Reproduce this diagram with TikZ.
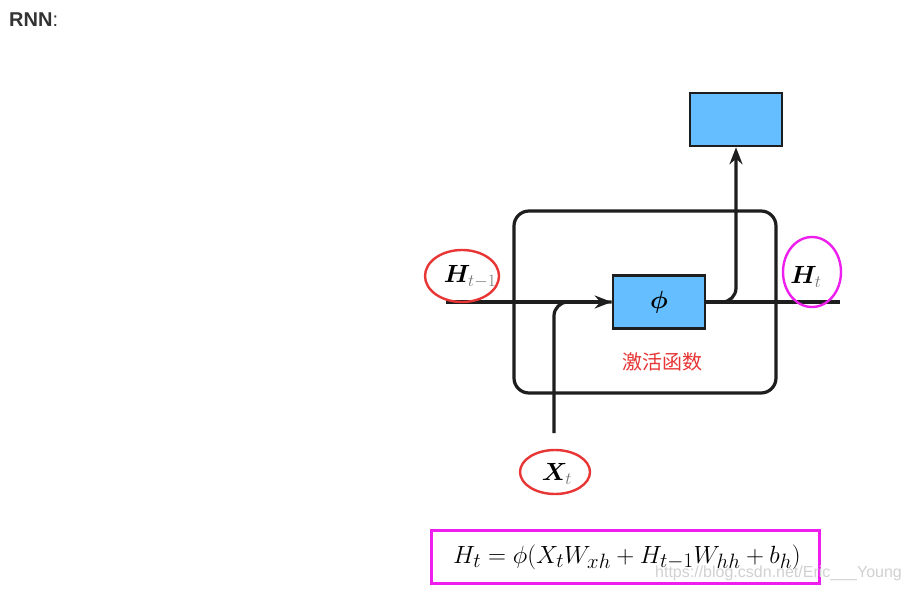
\documentclass[tikz,border=0pt]{standalone}
\usepackage{amsmath}
\usepackage{bm}
\usepackage{fontspec}
\newfontfamily\arialfont{Liberation Sans}
\newfontfamily\cjkfont{Noto Sans CJK SC}
\usetikzlibrary{arrows.meta}
\definecolor{boxblue}{HTML}{64BEFF}
\definecolor{linegray}{HTML}{1E1E1E}
\definecolor{markred}{HTML}{E83535}
\definecolor{markmag}{HTML}{EE1EEE}
\tikzset{
  cellbox/.style={draw=linegray, line width=3.2pt, rounded corners=15pt},
  bluebox/.style={draw=linegray, line width=2.6pt, fill=boxblue, minimum width=92pt, minimum height=53pt, inner sep=0pt},
  wire/.style={draw=linegray, line width=3.2pt},
  arrowwire/.style={wire, -{Stealth[length=17pt,width=13pt]}},
  redmark/.style={draw=markred, line width=2.4pt},
  magmark/.style={draw=markmag, line width=2.4pt},
  varlabel/.style={inner sep=0pt, font=\fontsize{26}{30}\selectfont}
}
\begin{document}
\begin{tikzpicture}[x=1pt, y=-1pt]
\useasboundingbox (0,0) rectangle (908,589);
\fill[white] (0,0) rectangle (908,589);
% title
\node[anchor=base west, inner sep=0pt, font=\arialfont\fontsize{20}{24}\selectfont, text=black!80] (title) at (9,27) {\textbf{RNN}:};
% cell
\draw[cellbox] (514,211) rectangle (776,393);
\node[bluebox, font=\fontsize{35}{40}\selectfont] (phi) at (659,302) {$\bm{\phi}$};
\node[bluebox] (top) at (736,119.5) {};
\coordinate (hin) at (446,302);
\coordinate (hout) at (840,302);
\coordinate (xin) at (554,433);
\draw[arrowwire] (hin) -- (phi.west);
\draw[wire, rounded corners=14pt] (xin) |- (phi.west);
\draw[wire] (phi.east) -- (hout);
\draw[arrowwire, rounded corners=14pt] (phi.east) -| (top.south);
% labels
\node[varlabel] (hprev) at (470,277) {$\bm{H}_{\color{black!55}t-1}$};
\node[varlabel] (hcur) at (806,277) {$\bm{H}_{\color{black!55}t}$};
\node[varlabel] (xcur) at (557,474) {$\bm{X}_{\color{black!55}t}$};
\draw[redmark] (462,276) ellipse [x radius=37, y radius=26];
\draw[magmark] (812,272) ellipse [x radius=29, y radius=35];
\draw[redmark] (555,472) ellipse [x radius=35, y radius=22];
\node[text=markred, font=\cjkfont\fontsize{20}{24}\selectfont, inner sep=0pt] (act) at (662,362) {激活函数};
% formula
\node[magmark, line width=3pt, minimum width=388pt, minimum height=53pt, inner sep=0pt] (fbox) at (625,556.5) {};
\node[inner sep=0pt, font=\fontsize{29.5}{34}\selectfont] (formula) at (627,557) {$H_t=\phi(X_tW_{xh}+H_{t-1}W_{hh}+b_h)$};
\node[anchor=base west, inner sep=0pt, text=black!18, font=\arialfont\fontsize{16}{19}\selectfont] (wm) at (655,577) {https://blog.csdn.net/Eric\_\_\_Young};
\end{tikzpicture}
\end{document}
